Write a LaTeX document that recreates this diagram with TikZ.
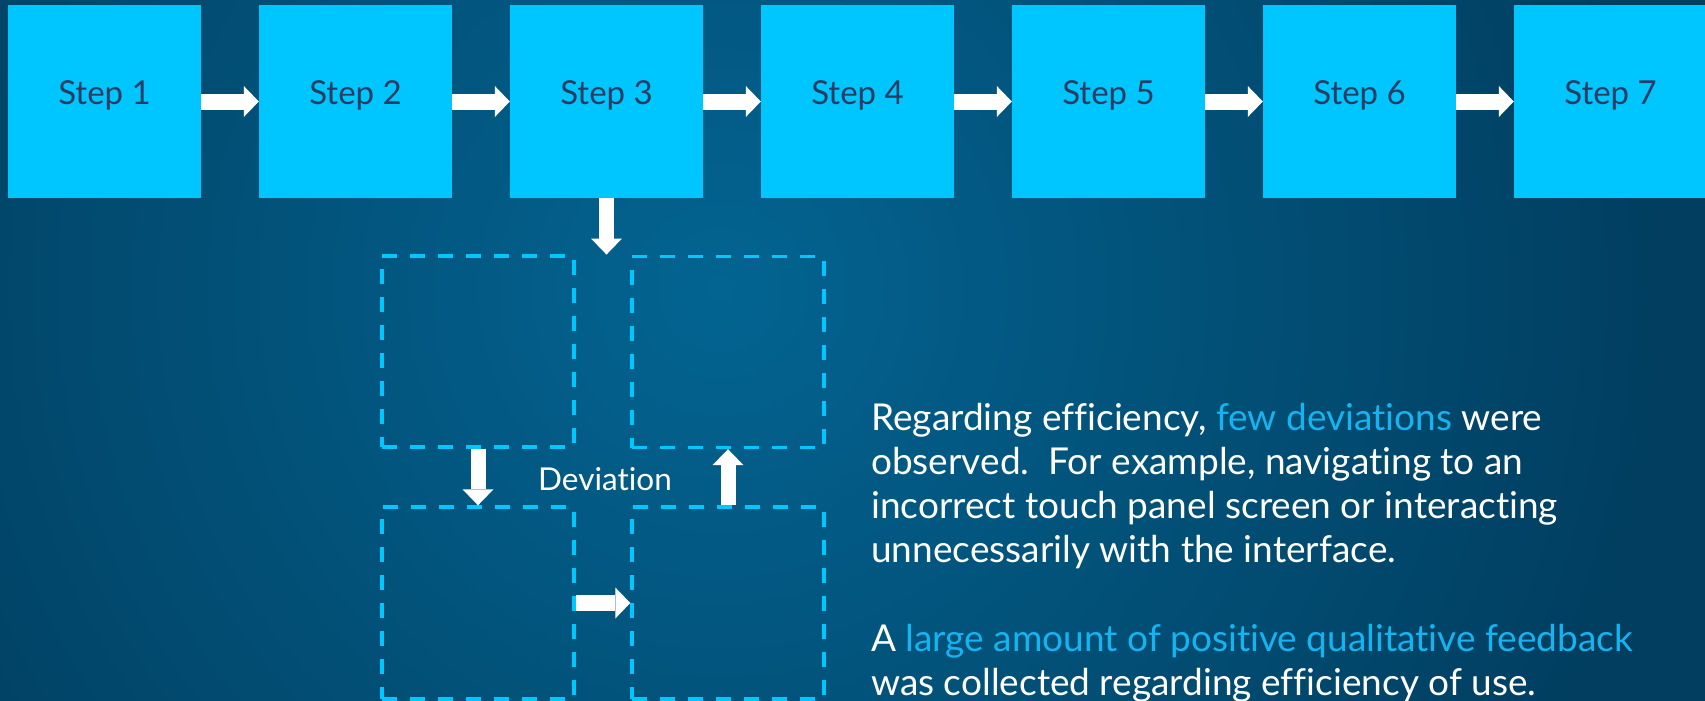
\documentclass[tikz,border=0pt]{standalone}
\usepackage{fontspec}
\setmainfont{Lato}[Ligatures=NoCommon]
\usetikzlibrary{arrows.meta,calc}
\definecolor{bgin}{RGB}{3,100,145}
\definecolor{bgout}{RGB}{1,62,96}
\definecolor{boxcyan}{RGB}{0,198,255}
\definecolor{navy}{RGB}{40,60,100}
\definecolor{dashcyan}{RGB}{0,200,255}
\definecolor{hicyan}{RGB}{20,180,240}
\begin{document}
\begin{tikzpicture}[x=1pt,y=-1pt,
  stepbox/.style={fill=boxcyan, minimum width=193pt, minimum height=193pt, inner sep=0pt, text=navy, font=\fontsize{33}{38}\selectfont, text height=15pt, text depth=10pt},
  devbox/.style={draw=dashcyan, line width=3.4pt, dash pattern=on 15pt off 13pt, minimum width=192pt, minimum height=191pt, inner sep=0pt},
  harrow/.style={draw=white, line width=16pt, -{Triangle[width=31pt,length=15pt,line width=0pt]}},
  varrow/.style={draw=white, line width=15pt, -{Triangle[width=31pt,length=16pt,line width=0pt]}},
  bodytext/.style={anchor=base west, inner sep=0pt, text=white, font=\fontsize{37}{44}\selectfont},
  devlabel/.style={anchor=base, inner sep=0pt, text=white, font=\fontsize{31.5}{36}\selectfont}]
\useasboundingbox (0,0) rectangle (1705,701);
\clip (0,0) rectangle (1705,701);
\fill[bgout] (0,0) rectangle (1705,701);
\shade[inner color=bgin, outer color=bgout] (720,290) circle (950);
% steps
\foreach \i in {1,...,7}{
  \node[stepbox] (s\i) at ({8+96.5+(\i-1)*251},101.5) {Step \i};
}
\foreach \i/\j in {1/2,2/3,3/4,4/5,5/6,6/7}{
  \draw[harrow] (s\i.east) -- (s\j.west);
}
% deviation boxes
\node[devbox] (d1) at (478,351.5) {};
\node[devbox] (d2) at (728,352) {};
\node[devbox, minimum height=192pt] (d3) at (478,603) {};
\node[devbox, minimum height=192pt] (d4) at (728,603) {};
\coordinate (gaptop) at ($(d1.north east)!0.5!(d2.north west)$);
\draw[varrow] (s3.south) -- (s3.south |- gaptop);
\draw[varrow] (d1.south) -- (d3.north);
\draw[varrow] (d4.north) -- (d2.south);
\draw[harrow] (d3.east) -- (d4.west);
\node[devlabel] (dev) at (605,490) {Deviation};
% text
\node[bodytext] (t1) at (871,430) {Regarding efficiency, \textcolor{hicyan}{few deviations} were};
\node[bodytext] (t2) at (871,474.3) {observed.\ \ For example, navigating to an};
\node[bodytext] (t3) at (871,518.6) {incorrect touch panel screen or interacting};
\node[bodytext] (t4) at (871,562.9) {unnecessarily with the interface.};
\node[bodytext] (t5) at (871,651.5) {A \textcolor{hicyan}{large amount of positive qualitative feedback}};
\node[bodytext] (t6) at (871,695.8) {was collected regarding efficiency of use.};
\end{tikzpicture}
\end{document}
